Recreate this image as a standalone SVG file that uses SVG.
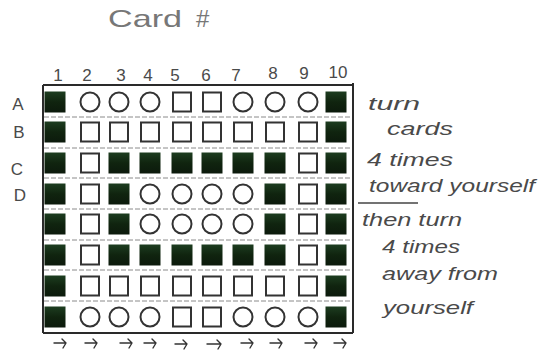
<svg xmlns="http://www.w3.org/2000/svg" xmlns:xlink="http://www.w3.org/1999/xlink" width="540" height="358" viewBox="0 0 540 358">
<style>
.hand{font-family:"Liberation Sans","DejaVu Sans",sans-serif;fill:#4a4a4a;}
.lbl{font-size:17px;}
.num{font-size:17px;}
.note{font-size:19px;font-style:italic;}
.sep{stroke:#8a8a8a;stroke-width:1;stroke-dasharray:5 2;}
.border{stroke:#2a2a2a;stroke-width:2;fill:none;}
.arrow{stroke:#333;stroke-width:1.4;fill:none;stroke-linecap:round;stroke-linejoin:round;}
</style>
<defs>
<linearGradient id="gfill" x1="0" y1="0" x2="0" y2="1">
<stop offset="0" stop-color="#1d3d20"/>
<stop offset="0.5" stop-color="#10240f"/>
<stop offset="1" stop-color="#0c1a0c"/>
</linearGradient>
<rect id="F" x="-10.5" y="-10.5" width="21" height="21" fill="url(#gfill)"/>
<rect id="S" x="-9" y="-9.5" width="18" height="19" fill="#fff" stroke="#333" stroke-width="2"/>
<circle id="O" r="9.5" fill="#fff" stroke="#333" stroke-width="2"/>
</defs>
<rect width="540" height="358" fill="#fff"/>

<g id="title">
<text class="hand" x="108" y="27" font-size="24" style="fill:#777" textLength="74" lengthAdjust="spacingAndGlyphs">Card</text>
<text class="hand" x="196" y="27" font-size="24" style="fill:#777">#</text>
</g>

<g id="col-numbers" class="hand num">
<text x="58" y="81" text-anchor="middle">1</text>
<text x="87" y="81" text-anchor="middle">2</text>
<text x="121" y="81" text-anchor="middle">3</text>
<text x="148" y="81" text-anchor="middle">4</text>
<text x="175" y="81" text-anchor="middle">5</text>
<text x="206" y="81" text-anchor="middle">6</text>
<text x="236" y="81" text-anchor="middle">7</text>
<text x="273" y="79" text-anchor="middle">8</text>
<text x="304" y="79" text-anchor="middle">9</text>
<text x="338" y="78" text-anchor="middle">10</text>
</g>

<g id="row-letters" class="hand lbl">
<text x="18" y="110" text-anchor="middle">A</text>
<text x="19" y="138" text-anchor="middle">B</text>
<text x="17" y="175" text-anchor="middle">C</text>
<text x="20" y="201" text-anchor="middle">D</text>
</g>

<g id="grid-lines">
<line class="sep" x1="44" y1="117" x2="353" y2="117"/>
<line class="sep" x1="44" y1="148" x2="353" y2="148"/>
<line class="sep" x1="44" y1="178" x2="353" y2="178"/>
<line class="sep" x1="44" y1="209" x2="353" y2="209"/>
<line class="sep" x1="44" y1="240" x2="353" y2="240"/>
<line class="sep" x1="44" y1="270" x2="353" y2="270"/>
<line class="sep" x1="44" y1="301" x2="353" y2="301"/>
<line class="border" x1="43" y1="85" x2="353" y2="85"/>
<line class="border" x1="43" y1="85" x2="43" y2="333"/>
<line class="border" x1="353" y1="83" x2="353" y2="333"/>
<line class="border" x1="43" y1="333" x2="353" y2="333"/>
</g>

<g id="row-A">
<use href="#F" x="55" y="102"/><use href="#O" x="90" y="102"/><use href="#O" x="119" y="102"/><use href="#O" x="150" y="102"/><use href="#S" x="182" y="102"/><use href="#S" x="212" y="102"/><use href="#O" x="243" y="102"/><use href="#O" x="275" y="102"/><use href="#O" x="308" y="102"/><use href="#F" x="336" y="102"/>
</g>
<g id="row-B">
<use href="#F" x="55" y="132"/><use href="#S" x="90" y="132"/><use href="#S" x="119" y="132"/><use href="#S" x="150" y="132"/><use href="#S" x="182" y="132"/><use href="#S" x="212" y="132"/><use href="#S" x="243" y="132"/><use href="#S" x="275" y="132"/><use href="#S" x="308" y="132"/><use href="#F" x="336" y="132"/>
</g>
<g id="row-C">
<use href="#F" x="55" y="163"/><use href="#S" x="90" y="163"/><use href="#F" x="119" y="163"/><use href="#F" x="150" y="163"/><use href="#F" x="182" y="163"/><use href="#F" x="212" y="163"/><use href="#F" x="243" y="163"/><use href="#F" x="275" y="163"/><use href="#S" x="308" y="163"/><use href="#F" x="336" y="163"/>
</g>
<g id="row-D">
<use href="#F" x="55" y="194"/><use href="#S" x="90" y="194"/><use href="#F" x="119" y="194"/><use href="#O" x="150" y="194"/><use href="#O" x="182" y="194"/><use href="#O" x="212" y="194"/><use href="#O" x="243" y="194"/><use href="#F" x="275" y="194"/><use href="#S" x="308" y="194"/><use href="#F" x="336" y="194"/>
</g>
<g id="row-E">
<use href="#F" x="55" y="224"/><use href="#S" x="90" y="224"/><use href="#F" x="119" y="224"/><use href="#O" x="150" y="224"/><use href="#O" x="182" y="224"/><use href="#O" x="212" y="224"/><use href="#O" x="243" y="224"/><use href="#F" x="275" y="224"/><use href="#S" x="308" y="224"/><use href="#F" x="336" y="224"/>
</g>
<g id="row-F">
<use href="#F" x="55" y="255"/><use href="#S" x="90" y="255"/><use href="#F" x="119" y="255"/><use href="#F" x="150" y="255"/><use href="#F" x="182" y="255"/><use href="#F" x="212" y="255"/><use href="#F" x="243" y="255"/><use href="#F" x="275" y="255"/><use href="#S" x="308" y="255"/><use href="#F" x="336" y="255"/>
</g>
<g id="row-G">
<use href="#F" x="55" y="286"/><use href="#S" x="90" y="286"/><use href="#S" x="119" y="286"/><use href="#S" x="150" y="286"/><use href="#S" x="182" y="286"/><use href="#S" x="212" y="286"/><use href="#S" x="243" y="286"/><use href="#S" x="275" y="286"/><use href="#S" x="308" y="286"/><use href="#F" x="336" y="286"/>
</g>
<g id="row-H">
<use href="#F" x="55" y="317"/><use href="#O" x="90" y="317"/><use href="#O" x="119" y="317"/><use href="#O" x="150" y="317"/><use href="#S" x="182" y="317"/><use href="#S" x="212" y="317"/><use href="#O" x="243" y="317"/><use href="#O" x="275" y="317"/><use href="#O" x="308" y="317"/><use href="#F" x="336" y="317"/>
</g>

<g id="arrows">
<path class="arrow" d="M54 343 H66 M62 339 L66 343 L63 348"/>
<path class="arrow" d="M85 343 H97 M93 339 L97 343 L94 348"/>
<path class="arrow" d="M120 343 H132 M128 339 L132 343 L129 348"/>
<path class="arrow" d="M144 343 H156 M152 339 L156 343 L153 348"/>
<path class="arrow" d="M175 344 H187 M183 340 L187 344 L184 349"/>
<path class="arrow" d="M207 344 H221 M217 340 L221 344 L218 349"/>
<path class="arrow" d="M241 343 H253 M249 339 L253 343 L250 348"/>
<path class="arrow" d="M270 343 H282 M278 339 L282 343 L279 348"/>
<path class="arrow" d="M305 343 H317 M313 339 L317 343 L314 348"/>
<path class="arrow" d="M334 343 H346 M342 339 L346 343 L343 348"/>
</g>

<g id="notes" class="hand note">
<text x="368" y="110" textLength="52" lengthAdjust="spacingAndGlyphs">turn</text>
<text x="387" y="135" textLength="66" lengthAdjust="spacingAndGlyphs">cards</text>
<text x="367" y="166" textLength="86" lengthAdjust="spacingAndGlyphs">4 times</text>
<text x="369" y="192" textLength="166" lengthAdjust="spacingAndGlyphs">toward yourself</text>
<line x1="358" y1="203" x2="418" y2="203" stroke="#444" stroke-width="1.5"/>
<text x="362" y="226" textLength="100" lengthAdjust="spacingAndGlyphs">then turn</text>
<text x="382" y="253" textLength="78" lengthAdjust="spacingAndGlyphs">4 times</text>
<text x="382" y="280" textLength="116" lengthAdjust="spacingAndGlyphs">away from</text>
<text x="383" y="314" textLength="90" lengthAdjust="spacingAndGlyphs">yourself</text>
</g>
</svg>
